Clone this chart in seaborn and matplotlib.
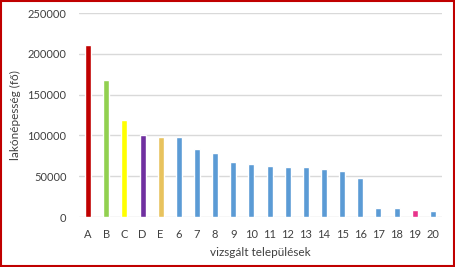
import matplotlib
matplotlib.use("Agg")
import matplotlib.pyplot as plt
import seaborn as sns
import pandas as pd
from matplotlib.patches import Rectangle

categories = ["A", "B", "C", "D", "E", "6", "7", "8", "9", "10",
              "11", "12", "13", "14", "15", "16", "17", "18", "19", "20"]
population = [210800, 167900, 119200, 100300, 98400, 98000, 83500, 78500, 67800, 65000,
              62500, 61600, 60800, 59200, 56400, 48200, 10600, 10500, 8600, 7700]
bar_colors = ["#C00000", "#92D050", "#FFFF00", "#7030A0", "#E8C35E"] + ["#5B9BD5"] * 13 + ["#E8338B", "#5B9BD5"]
y_ticks = [0, 50000, 100000, 150000, 200000, 250000]

df = pd.DataFrame({"cat": categories, "pop": population})
palette = dict(zip(categories, bar_colors))

sns.set_style("white")
plt.rcParams["font.family"] = ["Lato", "DejaVu Sans"]

fig = plt.figure(figsize=(4.56, 2.67), dpi=100)
ax = fig.add_axes([79/456, 1 - 217/267, (442 - 79)/456, (217 - 13)/267])

sns.barplot(data=df, x="cat", y="pop", hue="cat", palette=palette, order=categories,
            width=0.33, legend=False, ax=ax, saturation=1)

ax.set_xlim(-0.5, len(categories) - 0.5)
ax.set_ylim(0, 250000)
ax.set_yticks(y_ticks)
ax.set_yticklabels([str(v) for v in y_ticks], fontsize=8, color="#404040")
ax.tick_params(axis="x", labelsize=8, colors="#404040", length=0, pad=9)
ax.tick_params(axis="y", length=0, pad=9)
ax.grid(axis="y", color="#D9D9D9", linewidth=1)
ax.set_axisbelow(True)
for s in ax.spines.values():
    s.set_visible(False)

ax.set_xlabel("vizsgált települések", fontsize=8.5, color="#404040", labelpad=5)
ax.set_ylabel("lakónépesség (fő)", fontsize=8.5, color="#404040", labelpad=5)

fig.patches.append(Rectangle((0.002, 0.004), 0.994, 0.992, transform=fig.transFigure,
                             fill=False, edgecolor="#C00000", linewidth=1.5))

fig.savefig("out.png", dpi=100)
